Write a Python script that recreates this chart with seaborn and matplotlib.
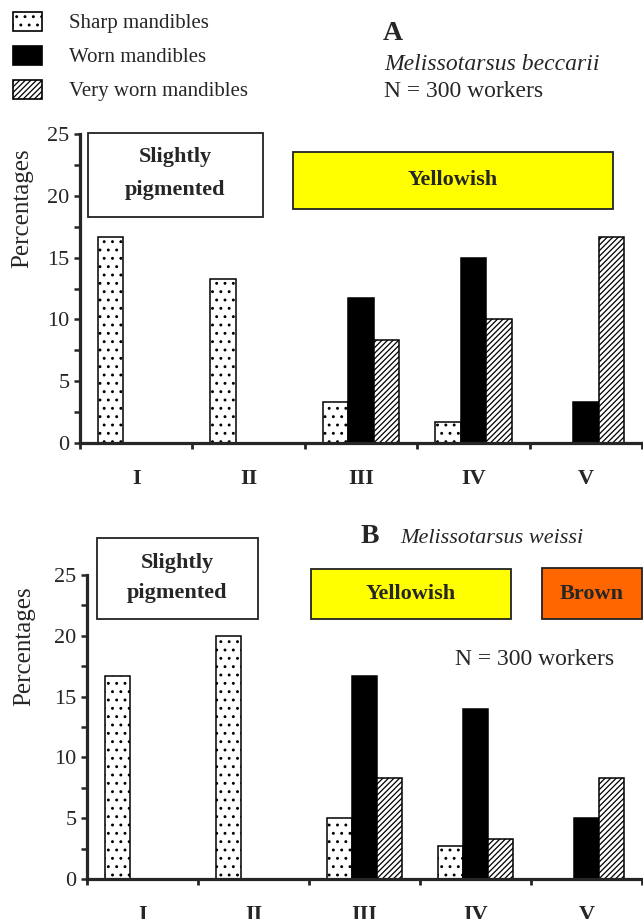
import numpy as np
import pandas as pd
import matplotlib
matplotlib.use("Agg")
import matplotlib.pyplot as plt
import matplotlib.patches as mpatches
import seaborn as sns

# stages of pigmentation (x categories)
stages = ["I", "II", "III", "IV", "V"]
wear_levels = ["Sharp mandibles", "Worn mandibles", "Very worn mandibles"]

# Panel A - Melissotarsus beccarii
sharp_a = [16.7, 13.3, 3.3, 1.7, 0.0]
worn_a = [0.0, 0.0, 11.7, 15.0, 3.3]
very_a = [0.0, 0.0, 8.3, 10.0, 16.7]

# Panel B - Melissotarsus weissi
sharp_b = [16.7, 20.0, 5.0, 2.7, 0.0]
worn_b = [0.0, 0.0, 16.7, 14.0, 5.0]
very_b = [0.0, 0.0, 8.3, 3.3, 8.3]

sns.set_style("ticks")
plt.rcParams['font.family'] = ['Liberation Serif', 'DejaVu Serif']
plt.rcParams['hatch.linewidth'] = 0.9

W, H = 643, 919
fig = plt.figure(figsize=(W / 100, H / 100), dpi=100)

face = ["white", "black", "white"]
hatches = ["..", None, "//////"]


def fx(x):
    return x / W


def fy(y):
    return 1 - y / H


def draw_panel(ax, sharp, worn, very):
    df = pd.DataFrame({
        "stage": stages * 3,
        "wear": [w for w in wear_levels for _ in stages],
        "pct": sharp + worn + very,
    })
    sns.barplot(data=df, x="stage", y="pct", hue="wear", order=stages,
                hue_order=wear_levels, palette=face, saturation=1,
                width=0.68, edgecolor="black", linewidth=1.1,
                errorbar=None, legend=False, ax=ax)
    for cont, h in zip(ax.containers, hatches):
        for bar in cont:
            if h:
                bar.set_hatch(h)

    ax.set_xlim(-0.5, 4.5)
    ax.set_ylim(0, 25)
    # ticks on the category boundaries, labels in the middle
    ax.set_xticks(np.arange(-0.5, 5, 1))
    ax.set_xticklabels([])
    ax.set_xticks(range(5), minor=True)
    ax.set_xticklabels(stages, minor=True, fontsize=16, fontweight="bold")
    ax.tick_params(axis="x", which="minor", length=0, pad=19)
    ax.tick_params(axis="x", which="major", length=4.5, width=2, direction="out")
    ax.set_yticks(range(0, 26, 5))
    ax.set_yticks(np.arange(0, 25, 2.5), minor=True)
    ax.tick_params(axis="y", which="both", length=4.5, width=1.8,
                   direction="out", labelsize=16, pad=3)
    ax.set_xlabel("")
    ax.set_ylabel("Percentages", fontsize=18)
    sns.despine(ax=ax)
    for s in ["left", "bottom"]:
        ax.spines[s].set_linewidth(2.3)


def box(x0, y0, x1, y1, color):
    fig.add_artist(mpatches.Rectangle((fx(x0), fy(y1)), fx(x1) - fx(x0),
                                      fy(y0) - fy(y1), transform=fig.transFigure,
                                      facecolor=color, edgecolor="#222222",
                                      linewidth=1.3, zorder=5))


def label(x, y, s, size=16, **kw):
    fig.text(fx(x), fy(y), s, ha="center", va="center", fontsize=size,
             fontweight="bold", zorder=6, **kw)


# Panel A
ax_a = fig.add_axes([fx(80), fy(443), fx(642) - fx(80), fy(134) - fy(443)])
draw_panel(ax_a, sharp_a, worn_a, very_a)
ax_a.yaxis.set_label_coords(-0.084, 0.76)

# Panel B
ax_b = fig.add_axes([fx(87), fy(879), fx(642) - fx(87), fy(575) - fy(879)])
draw_panel(ax_b, sharp_b, worn_b, very_b)
ax_b.yaxis.set_label_coords(-0.094, 0.766)

# pigmentation boxes
box(88, 133, 263, 217, "white")
label(175, 157, "Slightly")
label(175, 190, "pigmented")
box(293, 152, 613, 209, "#FFFF00")
label(453, 180, "Yellowish")

box(97, 538, 258, 619, "white")
label(177, 563, "Slightly")
label(177, 593, "pigmented")
box(311, 569, 511, 619, "#FFFF00")
label(411, 594, "Yellowish")
box(542, 568, 642, 619, "#FF6600")
label(592, 594, "Brown")

# titles
fig.text(fx(383), fy(40), "A", fontsize=20, fontweight="bold", va="baseline")
fig.text(fx(384), fy(70), "Melissotarsus beccarii", fontsize=17,
         style="italic", va="baseline")
fig.text(fx(384), fy(97), "N = 300 workers", fontsize=17, va="baseline")
fig.text(fx(361), fy(543), "B", fontsize=20, fontweight="bold", va="baseline")
fig.text(fx(400), fy(543), "Melissotarsus weissi", fontsize=16,
         style="italic", va="baseline")
fig.text(fx(455), fy(665), "N = 300 workers", fontsize=17, va="baseline")

# legend
handles = [mpatches.Patch(facecolor=f, edgecolor="black", hatch=h, linewidth=1.2)
           for f, h in zip(face, hatches)]
fig.legend(handles, wear_levels, loc="upper left",
           bbox_to_anchor=(fx(13), fy(12)), frameon=False, fontsize=15,
           handlelength=1.4, handleheight=1.0, handletextpad=1.3,
           labelspacing=0.6, borderpad=0, borderaxespad=0)

fig.savefig("out.png", dpi=100)
